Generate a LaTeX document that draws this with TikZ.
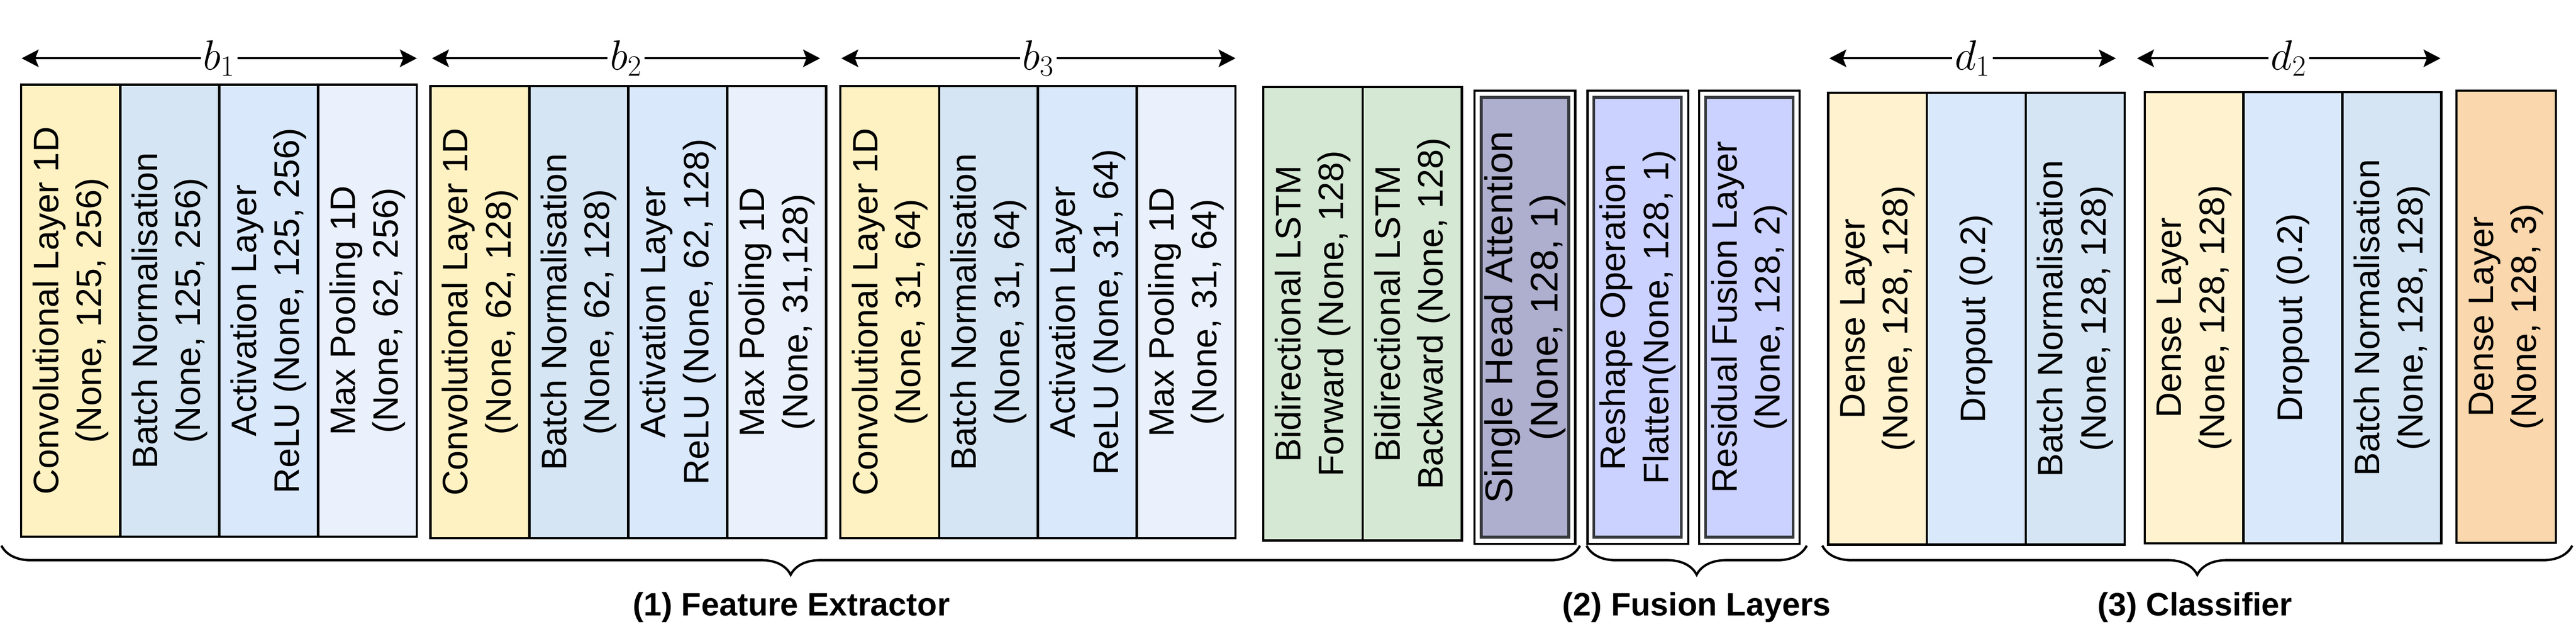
\RequirePackage{fix-cm}
\documentclass[tikz,border=0pt]{standalone}
\usepackage{fontspec}
\setmainfont{Liberation Sans}
\usetikzlibrary{arrows.meta,decorations.pathreplacing}

\definecolor{convfill}{HTML}{FFF2C2}
\definecolor{bnfill}{HTML}{D5E5F3}
\definecolor{actfill}{HTML}{DAE8FC}
\definecolor{poolfill}{HTML}{EAF1FC}
\definecolor{lstmfill}{HTML}{D5E8D4}
\definecolor{attfill}{HTML}{AEAECE}
\definecolor{fusefill}{HTML}{CCD2FF}
\definecolor{densefill}{HTML}{FFF2CF}
\definecolor{dropfill}{HTML}{DAE8FC}
\definecolor{outfill}{HTML}{FAD7AC}
\definecolor{innerdraw}{HTML}{36393D}

\begin{document}
\begin{tikzpicture}[
    layer/.style={draw=black, line width=1.4pt, rotate=90, align=center, inner sep=0pt,
      minimum width=9.61cm, minimum height=2.1cm, font=\fontsize{21.4}{26}\selectfont},
    outerbox/.style={draw=black, fill=white, line width=1.4pt, inner sep=0pt,
      minimum width=2.14cm, minimum height=9.64cm},
    innerbox/.style={draw=innerdraw, line width=1.7pt, rotate=90, align=center, inner sep=0pt,
      minimum width=9.35cm, minimum height=1.86cm, font=\fontsize{21.4}{26}\selectfont},
    span/.style={{Stealth[length=0.36cm, width=0.37cm, inset=0.07cm]}-{Stealth[length=0.36cm, width=0.37cm, inset=0.07cm]}, line width=1.4pt},
    spanlabel/.style={fill=white, inner sep=1.5pt, font=\fontsize{25.5}{30}\selectfont},
    group/.style={decorate, decoration={brace, mirror, amplitude=0.62cm}, line width=1.4pt},
    grouplabel/.style={font=\bfseries\fontsize{19.6}{24}\selectfont}
  ]
    \useasboundingbox (0,0) rectangle (54.75,13.47);

    % Draw block b1.
    \node[layer, fill=convfill] (b1_conv) at (1.50, 6.865) {Convolutional Layer 1D\\(None, 125, 256)};
    \node[layer, fill=bnfill] (b1_bn) at (3.605, 6.865) {Batch Normalisation\\(None, 125, 256)};
    \node[layer, fill=actfill] (b1_act) at (5.71, 6.865) {Activation Layer\\ReLU (None, 125, 256)};
    \node[layer, fill=poolfill] (b1_pool) at (7.81, 6.865) {Max Pooling 1D\\(None, 62, 256)};

    % Draw block b2.
    \node[layer, fill=convfill] (b2_conv) at (10.20, 6.835) {Convolutional Layer 1D\\(None, 62, 128)};
    \node[layer, fill=bnfill] (b2_bn) at (12.30, 6.835) {Batch Normalisation\\(None, 62, 128)};
    \node[layer, fill=actfill] (b2_act) at (14.405, 6.835) {Activation Layer\\ReLU (None, 62, 128)};
    \node[layer, fill=poolfill] (b2_pool) at (16.51, 6.835) {Max Pooling 1D\\(None, 31,128)};

    % Draw block b3.
    \node[layer, fill=convfill] (b3_conv) at (18.91, 6.835) {Convolutional Layer 1D\\(None, 31, 64)};
    \node[layer, fill=bnfill] (b3_bn) at (21.01, 6.835) {Batch Normalisation\\(None, 31, 64)};
    \node[layer, fill=actfill] (b3_act) at (23.11, 6.835) {Activation Layer\\ReLU (None, 31, 64)};
    \node[layer, fill=poolfill] (b3_pool) at (25.21, 6.835) {Max Pooling 1D\\(None, 31, 64)};

    % Draw the LSTM layers.
    \node[layer, fill=lstmfill, minimum width=9.64cm, minimum height=2.11cm] (lstm_f) at (27.905, 6.80) {Bidirectional LSTM\\Forward (None, 128)};
    \node[layer, fill=lstmfill, minimum width=9.64cm, minimum height=2.11cm] (lstm_b) at (30.015, 6.80) {Bidirectional LSTM\\Backward (None, 128)};

    % Draw the attention and fusion layers.
    \node[outerbox] (att_o) at (32.41, 6.725) {};
    \node[innerbox, fill=attfill, font=\fontsize{23.3}{27.5}\selectfont] (att) at (32.41, 6.725) {Single Head Attention\\(None, 128, 1)};
    \node[outerbox] (resh_o) at (34.81, 6.725) {};
    \node[innerbox, fill=fusefill] (resh) at (34.805, 6.725) {Reshape Operation\\Flatten(None, 128, 1)};
    \node[outerbox] (res_o) at (37.18, 6.725) {};
    \node[innerbox, fill=fusefill] (res) at (37.18, 6.725) {Residual Fusion Layer\\(None, 128, 2)};

    % Draw block d1.
    \node[layer, fill=densefill] (d1_dense) at (39.905, 6.695) {Dense Layer\\(None, 128, 128)};
    \node[layer, fill=dropfill] (d1_drop) at (42.005, 6.695) {Dropout (0.2)};
    \node[layer, fill=bnfill] (d1_bn) at (44.105, 6.695) {Batch Normalisation\\(None, 128, 128)};

    % Draw block d2.
    \node[layer, fill=densefill, minimum width=9.59cm] (d2_dense) at (46.635, 6.715) {Dense Layer\\(None, 128, 128)};
    \node[layer, fill=dropfill, minimum width=9.59cm] (d2_drop) at (48.73, 6.715) {Dropout (0.2)};
    \node[layer, fill=bnfill, minimum width=9.59cm] (d2_bn) at (50.835, 6.715) {Batch Normalisation\\(None, 128, 128)};

    % Draw the output layer.
    \node[layer, fill=outfill, minimum height=2.11cm] (out) at (53.265, 6.735) {Dense Layer\\(None, 128, 3)};

    % Draw the block spans.
    \coordinate (b1_l) at (0.46, 12.23);
    \coordinate (b1_r) at (8.86, 12.23);
    \coordinate (b2_l) at (9.18, 12.23);
    \coordinate (b2_r) at (17.43, 12.23);
    \coordinate (b3_l) at (17.88, 12.23);
    \coordinate (b3_r) at (26.26, 12.23);
    \coordinate (d1_l) at (38.88, 12.23);
    \coordinate (d1_r) at (44.97, 12.23);
    \coordinate (d2_l) at (45.42, 12.23);
    \coordinate (d2_r) at (51.87, 12.23);
    \draw[span] (b1_l) -- node[spanlabel] (b1) {$b_1$} (b1_r);
    \draw[span] (b2_l) -- node[spanlabel] (b2) {$b_2$} (b2_r);
    \draw[span] (b3_l) -- node[spanlabel] (b3) {$b_3$} (b3_r);
    \draw[span] (d1_l) -- node[spanlabel] (d1) {$d_1$} (d1_r);
    \draw[span] (d2_l) -- node[spanlabel] (d2) {$d_2$} (d2_r);

    % Draw the groups.
    \coordinate (fe_l) at (0.03, 1.87);
    \coordinate (fe_r) at (33.58, 1.87);
    \coordinate (fu_l) at (33.72, 1.87);
    \coordinate (fu_r) at (38.40, 1.87);
    \coordinate (cl_l) at (38.73, 1.87);
    \coordinate (cl_r) at (54.67, 1.87);
    \draw[group] (fe_l) -- (fe_r);
    \draw[group] (fu_l) -- (fu_r);
    \draw[group] (cl_l) -- (cl_r);
    \node[grouplabel] (fe) at (16.82, 0.56) {(1) Feature Extractor};
    \node[grouplabel] (fu) at (36.06, 0.56) {(2) Fusion Layers};
    \node[grouplabel] (cl) at (46.65, 0.56) {(3) Classifier};
  \end{tikzpicture}
\end{document}
